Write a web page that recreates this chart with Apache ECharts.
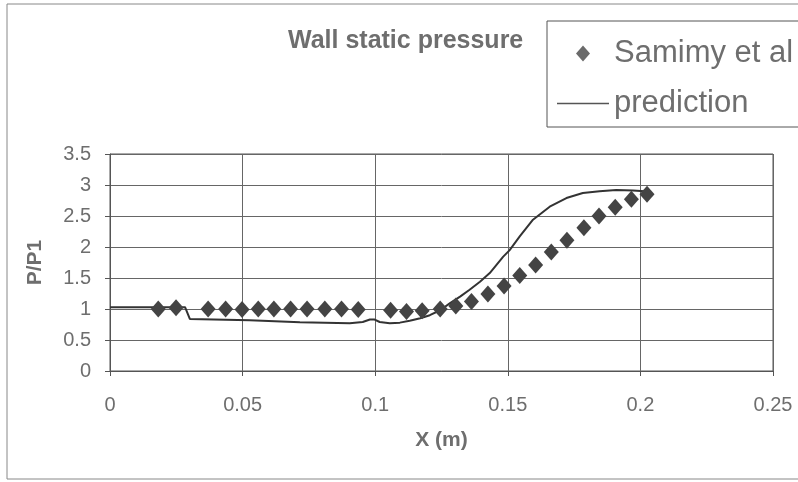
<!DOCTYPE html>
<html>
<head>
<meta charset="utf-8">
<script src="https://cdn.jsdelivr.net/npm/echarts@6/dist/echarts.min.js"></script>
<style>
    html, body { margin: 0; padding: 0; background: #fff; }
    #chart { width: 798px; height: 482px; }
</style>
</head>
<body>
<div id="chart"></div>
<script>
// measured points (Samimy et al)
var samimyX = [0.0182, 0.0249, 0.0370, 0.0436, 0.0498, 0.0559, 0.0618, 0.0681, 0.0743, 0.0810,
    0.0873, 0.0936, 0.1058, 0.1118, 0.1177, 0.1245, 0.1304, 0.1363, 0.1425, 0.1486,
    0.1545, 0.1605, 0.1664, 0.1723, 0.1787, 0.1844, 0.1905, 0.1966, 0.2025];
var samimyY = [1.0, 1.02, 1.0, 1.0, 0.99, 1.0, 1.0, 1.0, 1.0, 1.0,
    1.0, 0.99, 0.98, 0.96, 0.97, 1.0, 1.05, 1.12, 1.24, 1.37,
    1.54, 1.71, 1.92, 2.11, 2.31, 2.50, 2.64, 2.77, 2.85];

// prediction curve
var predX = [0, 0.0283, 0.0301, 0.0527, 0.0716, 0.0904, 0.0953, 0.0980, 0.0998, 0.1017,
    0.1055, 0.1093, 0.1130, 0.1170, 0.1206, 0.1245, 0.1281, 0.1320, 0.1356, 0.1395,
    0.1432, 0.1482, 0.1507, 0.1545, 0.1595, 0.1658, 0.1721, 0.1783, 0.1846, 0.1909,
    0.1972, 0.2016];
var predY = [1.03, 1.03, 0.84, 0.82, 0.785, 0.77, 0.79, 0.83, 0.83, 0.79,
    0.77, 0.78, 0.81, 0.85, 0.90, 0.98, 1.09, 1.20, 1.31, 1.44,
    1.58, 1.84, 1.95, 2.17, 2.44, 2.65, 2.79, 2.87, 2.90, 2.92,
    2.91, 2.90];

var xTicks = [0, 0.05, 0.1, 0.15, 0.2, 0.25];
var yTicks = [0, 0.5, 1, 1.5, 2, 2.5, 3, 3.5];

function pairs(xs, ys) {
    var out = [];
    for (var i = 0; i < xs.length; i++) {
        out.push([xs[i], ys[i]]);
    }
    return out;
}

var textGray = '#6e6e6e';
var font = 'Liberation Sans, Arial, sans-serif';

var myChart = echarts.init(document.getElementById('chart'));
var option = {
    backgroundColor: '#ffffff',
    animation: false,
    title: {
        text: 'Wall static pressure',
        left: 283,
        top: 24,
        textStyle: { color: textGray, fontFamily: font, fontWeight: 'bold', fontSize: 25 }
    },
    legend: {
        orient: 'vertical',
        left: 547,
        top: 21,
        padding: [17, 30, 8, 10],
        itemWidth: 52,
        itemHeight: 16,
        itemGap: 19,
        borderColor: '#555',
        borderWidth: 1,
        data: [
            { name: 'Samimy et al', icon: 'path://M7,0 L14,8 L7,16 L0,8 Z', itemStyle: { color: '#6a6a6a' } },
            { name: 'prediction', icon: 'path://M0,0 L52,0 L52,1.6 L0,1.6 Z', itemStyle: { color: '#555' } }
        ],
        textStyle: { color: textGray, fontFamily: font, fontSize: 31 }
    },
    grid: {
        left: 110,
        right: 25,
        top: 154,
        bottom: 111,
        show: true,
        borderColor: '#555',
        borderWidth: 1
    },
    xAxis: {
        type: 'value',
        min: xTicks[0],
        max: xTicks[xTicks.length - 1],
        interval: 0.05,
        name: 'X (m)',
        nameLocation: 'middle',
        nameGap: 59,
        nameTextStyle: { color: textGray, fontFamily: font, fontWeight: 'bold', fontSize: 21 },
        axisLine: { lineStyle: { color: '#555', width: 1 } },
        axisTick: { show: true, inside: false, length: 5, lineStyle: { color: '#555' } },
        axisLabel: { color: textGray, fontFamily: font, fontSize: 20, margin: 24 },
        splitLine: { show: true, lineStyle: { color: '#666', width: 1 } }
    },
    yAxis: {
        type: 'value',
        min: yTicks[0],
        max: yTicks[yTicks.length - 1],
        interval: 0.5,
        name: 'P/P1',
        nameLocation: 'middle',
        nameGap: 64,
        nameTextStyle: { color: textGray, fontFamily: font, fontWeight: 'bold', fontSize: 21 },
        axisLine: { show: true, lineStyle: { color: '#555', width: 1 } },
        axisTick: { show: true, inside: false, length: 5, lineStyle: { color: '#555' } },
        axisLabel: { color: textGray, fontFamily: font, fontSize: 20, margin: 19 },
        splitLine: { show: true, lineStyle: { color: '#666', width: 1 } }
    },
    graphic: [{
        type: 'rect',
        shape: { x: 7, y: 4, width: 820, height: 475 },
        style: { fill: 'none', stroke: '#888', lineWidth: 1 },
        silent: true
    }],
    series: [{
        name: 'prediction',
        type: 'line',
        data: pairs(predX, predY),
        symbol: 'none',
        lineStyle: { color: '#333', width: 2 },
        itemStyle: { color: '#333' },
        z: 2
    }, {
        name: 'Samimy et al',
        type: 'scatter',
        data: pairs(samimyX, samimyY),
        symbol: 'diamond',
        symbolSize: [15, 17],
        itemStyle: { color: '#444', opacity: 1 },
        z: 3
    }]
};

myChart.setOption(option);
</script>
</body>
</html>
